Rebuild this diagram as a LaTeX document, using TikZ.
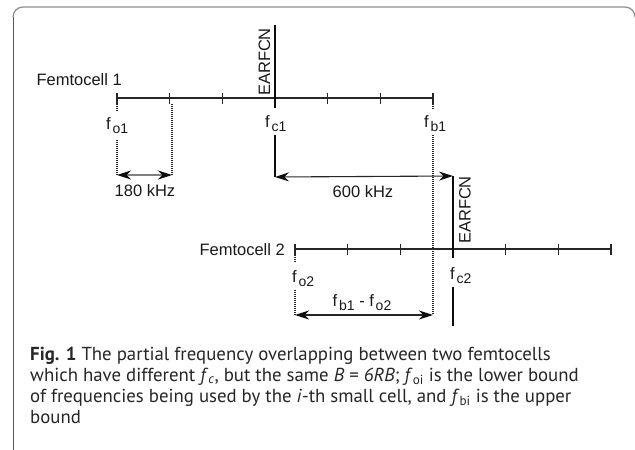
\documentclass[tikz,border=0pt]{standalone}
\usepackage{fontspec}
\setmainfont{Liberation Sans}
\newfontfamily\capfont{PT Sans}
\usetikzlibrary{arrows.meta}
\newcommand\fsub[1]{f\kern1.8pt\raisebox{-4pt}{\fontsize{14}{14}\selectfont #1}}
\begin{document}
\begin{tikzpicture}[x=1pt,y=-1pt,
  txt/.style={font=\fontsize{16.5}{16.5}\selectfont, inner sep=0pt, text=black!90},
  flab/.style={txt, anchor=base west},
  axisln/.style={line width=1.1pt, black!85},
  earfcn/.style={line width=2.3pt, black!95},
  dotln/.style={line width=1.2pt, black!85, dash pattern=on 1pt off 1pt},
  dimarrow/.style={line width=1.1pt, black!85, {Stealth[length=14pt,width=9pt,inset=4.5pt,color=black!95]}-{Stealth[length=14pt,width=9pt,inset=4.5pt,color=black!95]}},
  capline/.style={font=\capfont\fontsize{18.8}{18.8}\selectfont, anchor=base west, inner sep=0pt, text=black!85}
]
\useasboundingbox (0,0) rectangle (635,450);
% frame
\draw[black!65, line width=1pt] (13,455) -- (13,17);
\draw[black!45, line width=1.2pt] (13,17) arc[start angle=180,end angle=270,radius=10] -- (625,7) arc[start angle=270,end angle=360,radius=10];

% axis 1
\foreach \i in {0,...,6} \coordinate (p\i) at ({117+52.67*\i},98);
\draw[axisln] (p0) -- (p6);
\foreach \i in {0,1,2,4,5,6} \draw[axisln] (p\i) ++(0,-5.5) -- ++(0,11);
% axis 2
\foreach \i in {0,...,6} \coordinate (q\i) at ({295+52.67*\i},249);
\draw[axisln] (q0) -- (q6);
\foreach \i in {0,1,2,4,5,6} \draw[axisln] (q\i) ++(0,-5.5) -- ++(0,11);

% labels of cells
\node[txt, anchor=east] (fem1) at (122,80) {Femtocell 1};
\node[txt, anchor=east] (fem2) at (285,250) {Femtocell 2};

% EARFCN lines
\coordinate (e1t) at (275,25);
\coordinate (e1b) at (275,108);
\coordinate (e1l) at (275,135);
\coordinate (e1e) at (275,177);
\coordinate (e2t) at (453,176);
\coordinate (e2b) at (453,258);
\coordinate (e2l) at (453,287);
\coordinate (e2e) at (453,326);
\draw[earfcn] (e1t) -- (e1b);
\draw[earfcn] (e1l) -- (e1e);
\draw[earfcn] (e2t) -- (e2b);
\draw[earfcn] (e2l) -- (e2e);
\node[txt, rotate=90] (ear1) at (264.5,62) {EARFCN};
\node[txt, rotate=90] (ear2) at (465,210) {EARFCN};

% frequency labels
\node[flab] (fo1) at (106,129) {\fsub{o1}};
\node[flab] (fc1) at (265,127) {\fsub{c1}};
\node[flab] (fb1) at (424,127) {\fsub{b1}};
\node[flab] (fo2) at (292,282) {\fsub{o2}};
\node[flab] (fc2) at (450,279) {\fsub{c2}};

% dotted guides
\coordinate (d1a) at (117,104);
\coordinate (d1b) at (117,112);
\coordinate (d1c) at (117,140);
\coordinate (d1d) at (117,175);
\coordinate (d2a) at (172,104);
\coordinate (d2d) at (172,175);
\coordinate (d3a) at (433,104);
\coordinate (d3b) at (433,110);
\coordinate (d3c) at (433,135);
\coordinate (d3d) at (433,315);
\coordinate (d4a) at (295,255);
\coordinate (d4b) at (295,262);
\coordinate (d4c) at (295,290);
\coordinate (d4d) at (295,315);
\draw[dotln] (d1a) -- (d1b);
\draw[dotln] (d1c) -- (d1d);
\draw[dotln] (d2a) -- (d2d);
\draw[dotln] (d3a) -- (d3b);
\draw[dotln] (d3c) -- (d3d);
\draw[dotln] (d4a) -- (d4b);
\draw[dotln] (d4c) -- (d4d);

% dimension arrows
\draw[dimarrow, black!50] (d1d) -- (d2d);
\draw[dimarrow] (e1e) -- (e2t);
\draw[dimarrow] (d4d) -- (d3d);
\node[txt] (k180) at (145,191) {180 kHz};
\node[txt] (k600) at (363,192) {600 kHz};
\node[txt, anchor=base] (kdiff) at (362,306) {\fsub{b1} - \fsub{o2}};

% caption
\node[capline] (cap1) at (30,360) {\textbf{Fig. 1} The partial frequency overlapping between two femtocells};
\node[capline] (cap2) at (30,381) {which have different \textit{f}\textsubscript{\textit{c}}, but the same \textit{B} = \textit{6RB}; \textit{f}\textsubscript{oi} is the lower bound};
\node[capline] (cap3) at (30,402) {of frequencies being used by the \textit{i}-th small cell, and \textit{f}\textsubscript{bi} is the upper};
\node[capline] (cap4) at (30,423) {bound};
\end{tikzpicture}
\end{document}
